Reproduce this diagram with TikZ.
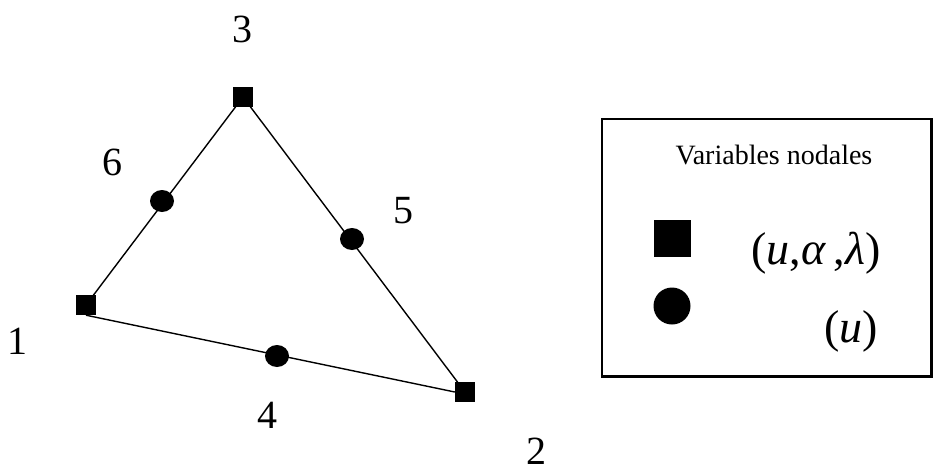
\documentclass[tikz,border=0pt]{standalone}
\usepackage{fontspec}
\setmainfont{Liberation Serif}
\usetikzlibrary{shapes.geometric}
\begin{document}
\begin{tikzpicture}[x=1pt,y=-1pt,
  vnode/.style={rectangle,fill=black,inner sep=0pt,minimum size=20pt},
  mnode/.style={ellipse,fill=black,inner sep=0pt,minimum width=24pt,minimum height=22pt},
  lbl/.style={inner sep=0pt,font=\fontsize{40}{48}\selectfont},
  edge/.style={line width=1.4pt},
  legsq/.style={rectangle,fill=black,inner sep=0pt,minimum size=37pt},
  legci/.style={circle,fill=black,inner sep=0pt,minimum size=37pt},
  mathlbl/.style={inner sep=0pt,font=\fontsize{46}{54}\selectfont}]
\useasboundingbox (0,0) rectangle (934,472);
% vertices
\node[vnode] (v1) at (86,305) {};
\node[vnode] (v2) at (465,392) {};
\node[vnode] (v3) at (243,97) {};
% edges
\draw[edge] (v1.south) -- (v2.west);
\draw[edge] (v2.center) -- (v3.center);
\draw[edge] (v3.center) -- (v1.center);
% mid-side nodes
\node[mnode] (m4) at (277,356) {};
\node[mnode] (m5) at (352,239) {};
\node[mnode] (m6) at (162,201) {};
% labels
\node[lbl] (l1) at (17,341) {1};
\node[lbl] (l2) at (536,451) {2};
\node[lbl] (l3) at (242,29) {3};
\node[lbl] (l4) at (267,415) {4};
\node[lbl] (l5) at (403,211) {5};
\node[lbl] (l6) at (112,162) {6};
% legend
\draw[line width=2.5pt] (602,119) rectangle (931.5,376.5);
\node[inner sep=0pt,font=\fontsize{28}{33}\selectfont] (lt) at (774,155) {Variables nodales};
\node[legsq] (ls) at (672,238) {};
\node[legci] (lc) at (672,306) {};
\node[mathlbl] (lm1) at (816,253) {(\textit{u},\textit{α}\,,\textit{λ})};
\node[mathlbl] (lm2) at (851,331) {(\textit{u})};
\end{tikzpicture}
\end{document}
